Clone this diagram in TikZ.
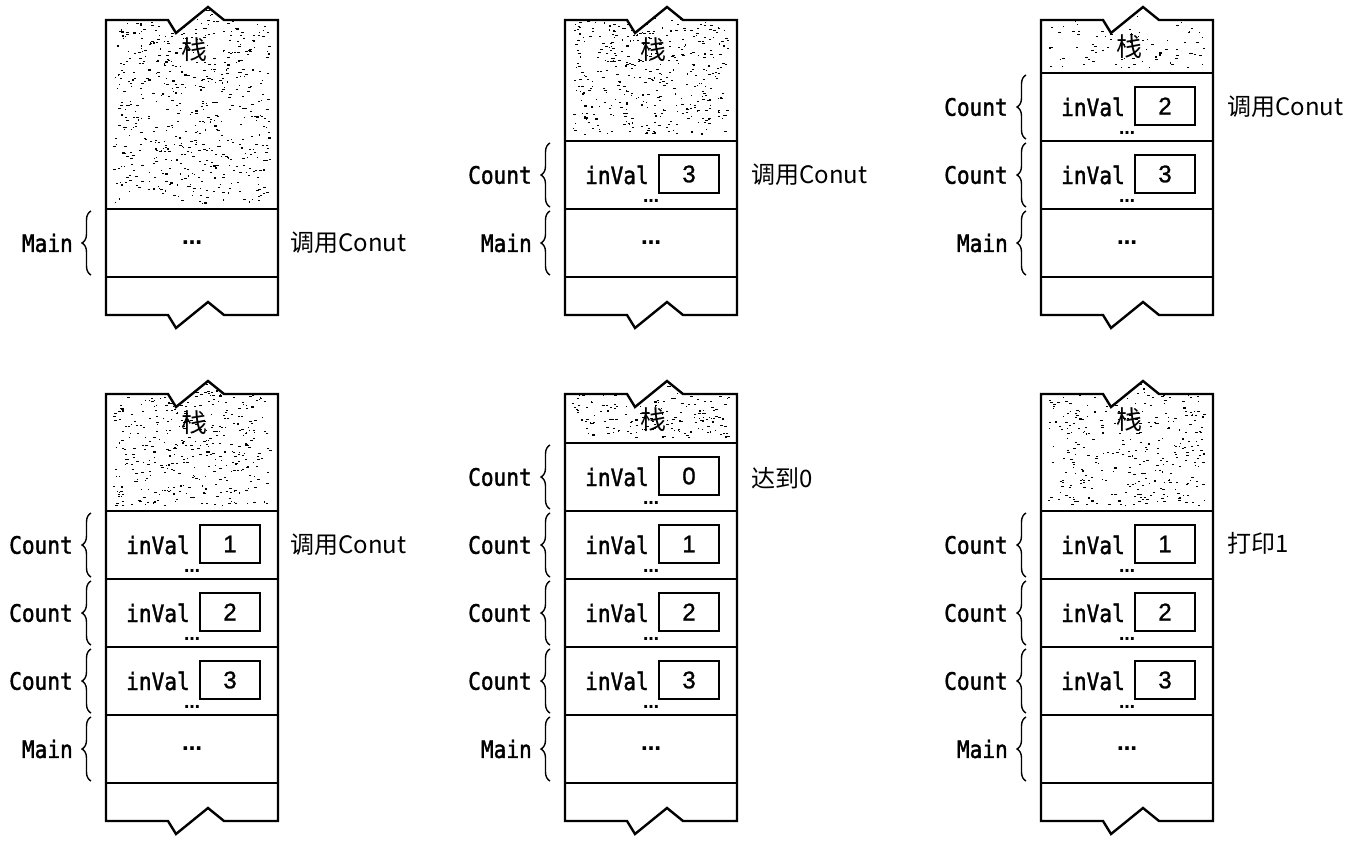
\documentclass[tikz,border=0pt]{standalone}
\usepackage{fontspec}
\setmainfont{DejaVu Sans}
\newfontfamily\monof[FakeStretch=0.88, BoldFont={DejaVu Sans Mono}, BoldFeatures={FakeBold=1.6, FakeStretch=0.88}]{DejaVu Sans Mono}
\newfontfamily\cjkf{Noto Sans CJK SC}
\newfontfamily\numf[BoldFont={Liberation Sans}, BoldFeatures={FakeBold=1.2}]{Liberation Sans}
\usetikzlibrary{decorations.pathreplacing}
\tikzset{
  x=1pt, y=-1pt,
  outline/.style={line width=2.4pt, line join=miter},
  secline/.style={line width=2pt},
  monolbl/.style={inner sep=0pt, font=\monof\bfseries\fontsize{24}{24}\selectfont},
  cjklbl/.style={inner sep=0pt, anchor=west, font=\cjkf\fontsize{24}{24}\selectfont},
  stacklbl/.style={inner sep=0pt, font=\cjkf\fontsize{26}{26}\selectfont},
  valbox/.style={draw, line width=2.2pt, minimum width=60pt, minimum height=38pt, inner sep=0pt, font=\numf\bfseries\fontsize{24}{24}\selectfont},
  dotsn/.style={inner sep=0pt, font=\fontsize{16}{16}\selectfont\bfseries},
  maindots/.style={inner sep=0pt, font=\fontsize{20}{20}\selectfont\bfseries},
  bracestyle/.style={line width=1.4pt, decorate, decoration={brace, amplitude=9pt, aspect=0.5}},
}
% random stipple for the free stack area: #1 L, #2 top, #3 bottom, #4 number of specks
\newcommand\stipple[4]{%
  \begin{scope}
    \clip (#1,#2) -- (#1+62,#2) -- (#1+70,#2+13) -- (#1+102,#2-13) -- (#1+118,#2) -- (#1+172,#2) -- (#1+172,#3) -- (#1,#3) -- cycle;
    \foreach \k in {1,...,#4}{
      \pgfmathsetmacro\xx{#1+7+rnd*156}
      \pgfmathsetmacro\yy{#2-12+rnd*(#3-#2+6)}
      \pgfmathsetmacro\ww{0.9+rnd*2.2}
      \fill (\xx,\yy) rectangle ++(\ww,1.1);
    }
  \end{scope}}
% outline of a panel: #1 L, #2 top, #3 bottom
\newcommand\paneloutline[3]{%
  \draw[outline] (#1,#2) -- (#1+62,#2) -- (#1+70,#2+13) -- (#1+102,#2-13) -- (#1+118,#2) -- (#1+172,#2)
    -- (#1+172,#3) -- (#1+118,#3) -- (#1+102,#3-13) -- (#1+70,#3+13) -- (#1+62,#3) -- (#1,#3) -- cycle;}
% a Count frame: #1 name, #2 L, #3 top, #4 bottom, #5 value
\newcommand\countsec[5]{%
  \draw[secline] (#2,#3) -- (#2+172,#3);
  \draw[secline] (#2,#4) -- (#2+172,#4);
  \node[monolbl, anchor=east] (#1lbl) at (#2-33,{(#3+#4)/2}) {Count};
  \coordinate (#1bb) at (#2-15,#4-2);
  \coordinate (#1bt) at (#2-15,#3+2);
  \draw[bracestyle] (#1bb) -- (#1bt);
  \node[monolbl] (#1var) at (#2+52,{(#3+#4)/2}) {inVal};
  \node[valbox] (#1val) at (#2+124,{(#3+#4)/2-1}) {#5};
  \node[dotsn] (#1dots) at (#2+86,#4-8) {…};
}
% the Main frame: #1 name, #2 L, #3 top, #4 bottom
\newcommand\mainsec[4]{%
  \draw[secline] (#2,#3) -- (#2+172,#3);
  \draw[secline] (#2,#4) -- (#2+172,#4);
  \node[monolbl, anchor=east] (#1lbl) at (#2-33,{(#3+#4)/2}) {Main};
  \coordinate (#1bb) at (#2-15,#4-2);
  \coordinate (#1bt) at (#2-15,#3+2);
  \draw[bracestyle] (#1bb) -- (#1bt);
  \node[maindots] (#1dots) at (#2+86,{(#3+#4)/2}) {…};
}
\begin{document}
\begin{tikzpicture}
\pgfmathsetseed{12345}
\useasboundingbox (0,0) rectangle (1368,850);

% ---------- Panel 1 ----------
\stipple{106}{20}{209}{600}
\node[stacklbl] (p1stack) at (106+88,20+30) {栈};
\mainsec{p1m}{106}{209}{277}
\node[cjklbl] (p1note) at (106+172+12,243) {调用Conut};
\paneloutline{106}{20}{315}

% ---------- Panel 2 ----------
\stipple{565}{20}{141}{420}
\node[stacklbl] (p2stack) at (565+88,20+30) {栈};
\countsec{p2a}{565}{141}{209}{3}
\mainsec{p2m}{565}{209}{277}
\node[cjklbl] (p2note) at (565+172+14,175) {调用Conut};
\paneloutline{565}{20}{315}

% ---------- Panel 3 ----------
\stipple{1041}{20}{73}{100}
\node[stacklbl] (p3stack) at (1041+88,20+27) {栈};
\countsec{p3a}{1041}{73}{141}{2}
\countsec{p3b}{1041}{141}{209}{3}
\mainsec{p3m}{1041}{209}{277}
\node[cjklbl] (p3note) at (1041+172+14,107) {调用Conut};
\paneloutline{1041}{20}{315}

% ---------- Panel 4 ----------
\stipple{106}{394}{511}{420}
\node[stacklbl] (p4stack) at (106+88,394+29) {栈};
\countsec{p4a}{106}{511}{579}{1}
\countsec{p4b}{106}{579}{647}{2}
\countsec{p4c}{106}{647}{715}{3}
\mainsec{p4m}{106}{715}{783}
\node[cjklbl] (p4note) at (106+172+12,545) {调用Conut};
\paneloutline{106}{394}{821}

% ---------- Panel 5 ----------
\stipple{565}{394}{443}{210}
\node[stacklbl] (p5stack) at (565+88,394+26) {栈};
\countsec{p5a}{565}{443}{511}{0}
\countsec{p5b}{565}{511}{579}{1}
\countsec{p5c}{565}{579}{647}{2}
\countsec{p5d}{565}{647}{715}{3}
\mainsec{p5m}{565}{715}{783}
\node[cjklbl] (p5note) at (565+172+14,478) {达到0};
\paneloutline{565}{394}{821}

% ---------- Panel 6 ----------
\stipple{1041}{394}{511}{360}
\node[stacklbl] (p6stack) at (1041+88,394+26) {栈};
\countsec{p6a}{1041}{511}{579}{1}
\countsec{p6b}{1041}{579}{647}{2}
\countsec{p6c}{1041}{647}{715}{3}
\mainsec{p6m}{1041}{715}{783}
\node[cjklbl] (p6note) at (1041+172+14,543) {打印1};
\paneloutline{1041}{394}{821}
\end{tikzpicture}
\end{document}
